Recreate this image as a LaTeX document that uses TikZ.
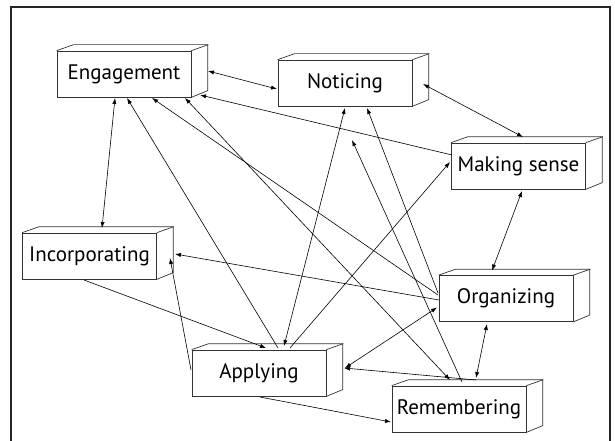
\documentclass[tikz,border=0pt]{standalone}
\usepackage{fontspec}
\setmainfont[Ligatures=NoCommon]{PT Sans}
\usetikzlibrary{arrows.meta}
\begin{document}
\begin{tikzpicture}[x=1pt,y=-1pt,
  box/.style={draw=black!80, line width=0.7pt, fill=white, minimum width=134pt, minimum height=46pt, inner sep=0pt, font=\fontsize{21}{24}\selectfont},
  face/.style={draw=black!80, line width=0.7pt},
  tip/.tip={Latex[length=6pt,width=4.2pt]},
  conn/.style={line width=0.6pt, -tip},
  both/.style={line width=0.6pt, tip-tip},
  frame/.style={line width=1.4pt, black!85}]
\useasboundingbox (0,0) rectangle (615,441);
\draw[frame] (11,441) -- (11,7) -- (610,7) -- (610,441);

% boxes
\foreach \n/\x/\y/\t in {eng/124/74/Engagement, not/345/83/Noticing, ms/518.5/166/Making sense, inc/89.5/256/Incorporating, app/259/373/Applying, org/506/298.5/Organizing, rem/459/409/Remembering}{
  \node[box] (\n) at (\x,\y) {\t};
  \draw[face] (\n.north west) -- ++(17,-6) -- ++(134,0) -- ++(0,46) -- (\n.south east);
  \draw[face] (\n.north east) -- ++(17,-6);
}
\coordinate (mid) at (352,140);

% connectors
\draw[both] ([shift={(84,-3)}]eng.center) -- ([shift={(-68,6)}]not.center);
\draw[both] ([shift={(-9,24)}]eng.center) -- ([shift={(12.5,-28)}]inc.center);
\draw[conn] ([shift={(19,-25)}]app.center) -- ([shift={(3,24)}]eng.center);
\draw[conn] ([shift={(-68,-3.5)}]org.center) -- ([shift={(28,24)}]eng.center);
\draw[both] ([shift={(61,24)}]eng.center) -- ([shift={(-9,-29)}]rem.center);
\draw[conn] ([shift={(-66.5,-11)}]ms.center) -- ([shift={(76,21)}]eng.center);
\draw[conn] ([shift={(-5.5,24)}]inc.center) -- ([shift={(7,-25)}]app.center);
\draw[conn] ([shift={(-68,-3)}]app.center) -- ([shift={(80.5,2)}]inc.center);
\draw[both] ([shift={(25,-27)}]app.center) -- ([shift={(0,25)}]not.center);
\draw[conn] ([shift={(31,-25)}]app.center) -- ([shift={(-68.5,-4)}]ms.center);
\draw[conn] ([shift={(17,-29)}]rem.center) -- ([shift={(85,-5)}]app.center);
\draw[both] ([shift={(-69,9)}]org.center) -- ([shift={(86,-5)}]app.center);
\draw[conn] ([shift={(1,24)}]app.center) -- ([shift={(-68,13)}]rem.center);
\draw[both] ([shift={(78,1)}]not.center) -- ([shift={(4.5,-29)}]ms.center);
\draw[both] ([shift={(3.5,25)}]ms.center) -- ([shift={(-14,-28)}]org.center);
\draw[conn] ([shift={(-67,1.5)}]org.center) -- ([shift={(85.5,-2)}]inc.center);
\draw[both] ([shift={(-19,25.5)}]org.center) -- ([shift={(17,-31)}]rem.center);
\draw[conn] ([shift={(-68,-5.5)}]org.center) -- ([shift={(22,25)}]not.center);
\draw[conn] ([shift={(3,-27)}]rem.center) -- (mid);
\end{tikzpicture}
\end{document}
